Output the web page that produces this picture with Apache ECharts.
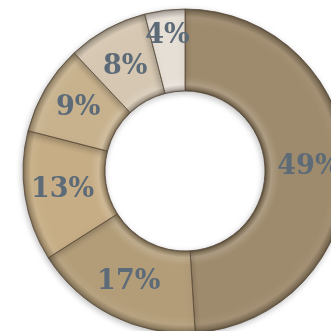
<!DOCTYPE html>
<html><head><meta charset="utf-8">
<script src="https://cdn.jsdelivr.net/npm/echarts@6/dist/echarts.min.js"></script>
<style>html,body{margin:0;padding:0;background:#fff}#c{width:331px;height:331px}</style>
</head><body><div id="c"></div>
<script>
var categories = ['A','B','C','D','E','F'];
var values = [49, 17, 13, 9, 8, 4];
var baseColors = ['#9e8a6c', '#b39d79', '#c6ad85', '#c8b28e', '#d5c7b1', '#e6dfd6'];

var CX = 185, CY = 171, R0 = 80, R1 = 162;
function shade(hex, f) {
  var n = parseInt(hex.slice(1), 16);
  var r = (n >> 16) & 255, g = (n >> 8) & 255, b = n & 255;
  function m(c) { return Math.max(0, Math.min(255, Math.round(f < 0 ? c * (1 + f) : c + (255 - c) * f))); }
  return 'rgb(' + m(r) + ',' + m(g) + ',' + m(b) + ')';
}
function grad(hex) {
  var k = R0 / R1;
  return {
    type: 'radial', x: CX, y: CY, r: R1, global: true,
    colorStops: [
      {offset: 0, color: shade(hex, -0.45)},
      {offset: k, color: shade(hex, -0.45)},
      {offset: k + 0.012, color: shade(hex, -0.2)},
      {offset: k + 0.04, color: shade(hex, 0.15)},
      {offset: k + 0.09, color: hex},
      {offset: 0.9, color: hex},
      {offset: 0.95, color: shade(hex, 0.06)},
      {offset: 0.985, color: shade(hex, -0.2)},
      {offset: 1, color: shade(hex, -0.4)}
    ]
  };
}
var data = categories.map(function (c, i) {
  var d = { name: c, value: values[i], itemStyle: { color: grad(baseColors[i]) } };
  if (i === values.length - 1) d.label = { offset: [-2, -12] };
  if (i === values.length - 2) d.label = { offset: [0, 5] };
  return d;
});
var chart = echarts.init(document.getElementById('c'));
chart.setOption({
  animation: false,
  series: [{
    type: 'pie',
    center: [CX, CY],
    radius: [R0, R1],
    startAngle: 90,
    clockwise: true,
    avoidLabelOverlap: false,
    minShowLabelAngle: 0,
    labelLayout: { hideOverlap: false },
    data: data,
    itemStyle: { borderColor: '#5a4a38', borderWidth: 0.8, shadowBlur: 6, shadowColor: 'rgba(0,0,0,0.25)', shadowOffsetX: -1, shadowOffsetY: 2 },
    label: {
      show: true, position: 'inside',
      formatter: function (p) { return p.value + '%'; },
      color: '#5d6a77',
      fontFamily: 'DejaVu Serif', fontWeight: 'bold', fontSize: 27
    },
    labelLine: { show: false },
    emphasis: { disabled: true }
  }]
});
</script></body></html>
